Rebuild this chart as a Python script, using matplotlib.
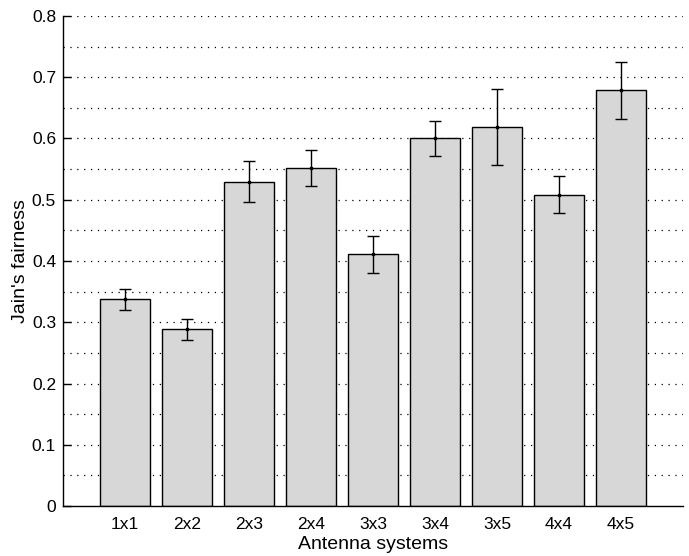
import numpy as np
import matplotlib.pyplot as plt

plt.rcParams['font.family'] = ['Liberation Sans', 'DejaVu Sans']

# Jain's fairness per antenna system, with error bar bounds
systems = ['1x1', '2x2', '2x3', '2x4', '3x3', '3x4', '3x5', '4x4', '4x5']
fairness = [0.338, 0.2885, 0.529, 0.552, 0.411, 0.601, 0.619, 0.508, 0.679]
upper = [0.355, 0.305, 0.563, 0.581, 0.441, 0.629, 0.681, 0.539, 0.7245]
lower = [0.3195, 0.2705, 0.496, 0.522, 0.380, 0.571, 0.557, 0.478, 0.6315]

fairness = np.array(fairness)
err = [fairness - np.array(lower), np.array(upper) - fairness]
x = np.arange(1, len(systems) + 1)

fig = plt.figure(figsize=(6.89, 5.56), dpi=100)
ax = fig.add_axes([63/689, 1 - 506/556, 620/689, 490/556])

# dotted grid every 0.05
for g in np.arange(0.05, 0.81, 0.05):
    ax.axhline(g, color='black', linestyle=(0, (1, 4.5)), linewidth=0.9, zorder=0)

ax.bar(x, fairness, width=0.8, color='#d7d7d7', edgecolor='black', linewidth=1.0, zorder=2)
ax.errorbar(x, fairness, yerr=err, fmt='s', color='black', markersize=2,
            elinewidth=1.0, capsize=4, capthick=1.0, zorder=3)

ax.set_xlim(0, 10)
ax.set_ylim(0, 0.8)
ax.set_xticks(x)
ax.set_xticklabels(systems, fontsize=12.5)
ax.set_yticks(np.arange(0, 0.81, 0.1))
ax.set_yticklabels(['0', '0.1', '0.2', '0.3', '0.4', '0.5', '0.6', '0.7', '0.8'], fontsize=12.5)
ax.tick_params(axis='y', direction='in', length=6, width=1.0, pad=5)
ax.tick_params(axis='x', direction='in', length=0, pad=8)
ax.spines['top'].set_visible(False)
ax.spines['right'].set_visible(False)
ax.spines['left'].set_linewidth(1.0)
ax.spines['bottom'].set_linewidth(1.0)

ax.set_xlabel('Antenna systems', fontsize=14, labelpad=3)
ax.set_ylabel("Jain's fairness", fontsize=14, labelpad=2)

plt.savefig('out.png', dpi=100)
